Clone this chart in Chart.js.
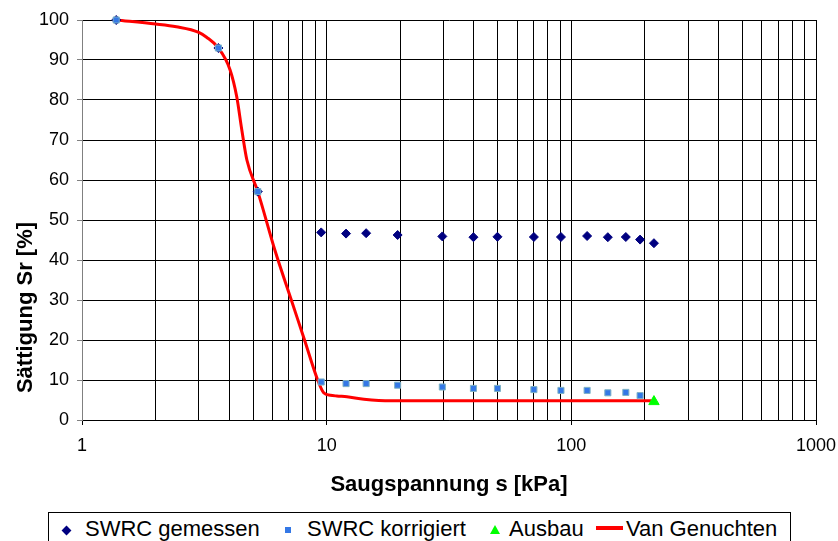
<!DOCTYPE html>
<html>
<head>
<meta charset="utf-8">
<script src="https://cdn.jsdelivr.net/npm/chart.js@4"></script>
<style>
  body { margin: 0; background: #fff; font-family: "Liberation Sans", Arial, sans-serif; }
  #wrap { position: relative; width: 838px; height: 541px; overflow: hidden; }
  #legend { position: absolute; left: 48px; top: 512px; width: 743px; height: 40px; border: 1px solid #000; background: #fff; box-sizing: border-box; }
  .lg { position: absolute; top: 5px; font-size: 22px; line-height: 22px; color: #000; white-space: nowrap; }
  .mk-dia { position: absolute; left: 13.5px; top: 13.5px; width: 7px; height: 7px; background: #000080; transform: rotate(45deg); }
  .mk-sq { position: absolute; left: 236px; top: 14px; width: 6px; height: 6px; background: #3478e6; }
  .mk-tri { position: absolute; left: 441px; top: 12px; width: 0; height: 0; border-left: 5px solid transparent; border-right: 5px solid transparent; border-bottom: 9px solid #00ff00; }
  .mk-line { position: absolute; left: 547px; top: 13px; width: 27px; height: 4px; background: #ff0000; }
</style>
</head>
<body>
<div id="wrap">
  <canvas id="chart" width="838" height="541"></canvas>
  <div id="legend">
    <span class="mk-dia"></span><span class="lg" style="left:36px">SWRC gemessen</span>
    <span class="mk-sq"></span><span class="lg" style="left:258px">SWRC korrigiert</span>
    <span class="mk-tri"></span><span class="lg" style="left:460px">Ausbau</span>
    <span class="mk-line"></span><span class="lg" style="left:577px">Van Genuchten</span>
  </div>
</div>
<script>
const gemessenX = [1.38, 3.61, 5.23, 9.5, 12.0, 14.5, 19.5, 29.7, 39.8, 49.9, 70.3, 90.7, 116, 141, 167, 191, 217.6];
const gemessenY = [100, 93, 57.1, 46.9, 46.6, 46.7, 46.25, 45.9, 45.7, 45.8, 45.75, 45.75, 46.0, 45.7, 45.75, 45.1, 44.2];

const korrigiertX = [1.38, 3.61, 5.23, 9.5, 12.0, 14.5, 19.5, 29.7, 39.8, 49.9, 70.3, 90.7, 116, 141, 167, 191];
const korrigiertY = [100, 93, 57.1, 9.5, 9.1, 9.1, 8.7, 8.25, 7.9, 7.9, 7.6, 7.4, 7.4, 6.8, 6.9, 6.1];

const ausbauX = [217.6];
const ausbauY = [4.6];

// Van Genuchten Kurve
const vgX = [1.38, 2, 2.43, 3, 3.23, 3.61, 4.03, 4.29, 4.5, 4.72, 5.23, 6.14, 7.17, 8.12, 9.19, 9.72, 10.35, 11.0, 12.1, 14.2, 18.3, 30, 60, 100, 150, 212];
const vgY = [100, 99, 98.3, 96.9, 95.7, 93, 87.5, 80.8, 72.5, 65, 57.1, 42.5, 30, 20, 10, 6.8, 6.2, 6.0, 5.8, 5.2, 4.8, 4.8, 4.8, 4.8, 4.8, 4.8];

// Achsen
const gridX = [1, 2, 3, 4, 5, 6, 7, 8, 9, 10, 20, 30, 40, 50, 60, 70, 80, 90, 100, 200, 300, 400, 500, 600, 700, 800, 900, 1000];
const labelX = [1, 10, 100, 1000];
const xTitle = 'Saugspannung s [kPa]';
const yTitle = 'Sättigung Sr [%]';

function pts(xs, ys) {
    return xs.map((x, i) => ({ x: x, y: ys[i] }));
}

Chart.defaults.font.family = '"Liberation Sans", Arial, sans-serif';

// y-Titel selbst zeichnen (sitzt tiefer als die Mitte)
const yTitlePlugin = {
    id: 'yTitlePlugin',
    afterDraw(chart) {
        const c = chart.ctx;
        c.save();
        c.translate(32, 307.5);
        c.rotate(-Math.PI / 2);
        c.font = 'bold 22px "Liberation Sans", Arial, sans-serif';
        c.fillStyle = '#000';
        c.textAlign = 'center';
        c.textBaseline = 'alphabetic';
        c.fillText(yTitle, 0, 0);
        c.restore();
    }
};

new Chart(document.getElementById('chart'), {
    type: 'scatter',
    data: {
        datasets: [
            {
                label: 'SWRC gemessen',
                data: pts(gemessenX, gemessenY),
                pointStyle: 'rectRot',
                pointRadius: 4.5,
                backgroundColor: '#000080',
                borderColor: '#000080',
                borderWidth: 1,
                clip: false,
                order: 3
            },
            {
                label: 'SWRC korrigiert',
                data: pts(korrigiertX, korrigiertY),
                pointStyle: 'rect',
                pointRadius: 4.3,
                backgroundColor: '#3478e6',
                borderColor: '#7fb3c6',
                borderWidth: 1,
                clip: false,
                order: 2
            },
            {
                label: 'Ausbau',
                data: pts(ausbauX, ausbauY),
                pointStyle: 'triangle',
                pointRadius: 6,
                backgroundColor: '#00ff00',
                borderColor: '#00ff00',
                borderWidth: 1,
                clip: false,
                order: 1
            },
            {
                type: 'line',
                label: 'Van Genuchten',
                data: pts(vgX, vgY),
                borderColor: '#ff0000',
                borderWidth: 3,
                pointRadius: 0,
                fill: false,
                cubicInterpolationMode: 'monotone',
                clip: false,
                order: 4
            }
        ]
    },
    options: {
        responsive: false,
        animation: false,
        events: [],
        layout: { padding: { top: 20, right: 22, left: 0, bottom: 0 } },
        plugins: {
            legend: { display: false },
            tooltip: { enabled: false }
        },
        scales: {
            x: {
                type: 'logarithmic',
                min: 1,
                max: 1000,
                afterBuildTicks: (s) => { s.ticks = gridX.map(v => ({ value: v, major: labelX.includes(v) })); },
                afterFit: (s) => { s.height = 121; s.paddingLeft = 0; s.paddingRight = 0; },
                ticks: {
                    autoSkip: false,
                    maxRotation: 0,
                    padding: 10,
                    color: '#000',
                    font: { size: 18 },
                    callback: (v) => labelX.includes(v) ? String(v) : ''
                },
                grid: {
                    color: (ctx) => (ctx.tick && ctx.tick.value === 1) ? '#808080' : '#000',
                    tickLength: 5,
                    tickColor: (ctx) => (ctx.tick && labelX.includes(ctx.tick.value)) ? '#000' : 'rgba(0,0,0,0)'
                },
                border: { color: '#000' },
                title: {
                    display: true,
                    text: xTitle,
                    color: '#000',
                    font: { size: 22, weight: 'bold' },
                    padding: { top: 0, bottom: 43 }
                }
            },
            y: {
                min: 0,
                max: 100,
                afterFit: (s) => { s.width = 82; s.paddingTop = 0; s.paddingBottom = 0; },
                ticks: {
                    stepSize: 10,
                    padding: 8,
                    color: '#000',
                    font: { size: 18 }
                },
                grid: { color: '#000', tickLength: 5, tickColor: '#808080' },
                border: { color: '#808080' }
            }
        }
    },
    plugins: [yTitlePlugin]
});
</script>
</body>
</html>
